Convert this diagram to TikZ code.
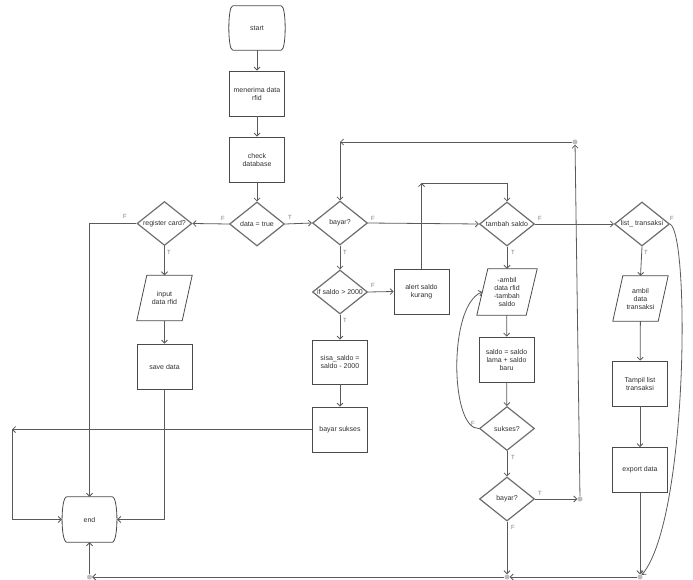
\documentclass[tikz,border=0pt]{standalone}
\usepackage{fontspec}
\setmainfont{Liberation Sans}
\usetikzlibrary{arrows.meta,shapes.geometric}
\definecolor{ln}{HTML}{5A5A5A}
\definecolor{bx}{HTML}{4A4A4A}
\definecolor{dm}{HTML}{6E6E6E}
\definecolor{lb}{HTML}{7A7A7A}
\definecolor{tx}{HTML}{303030}
\definecolor{dotc}{HTML}{BDBDBD}
\tikzset{
 every node/.style={font=\fontsize{7}{8}\selectfont, text=tx},
 proc/.style={rectangle, draw=bx, line width=0.8pt, minimum width=55pt, minimum height=45pt, inner sep=0pt, align=center},
 dec/.style={diamond, draw=dm, line width=1.2pt, minimum width=55pt, minimum height=44pt, inner sep=0pt},
 tbox/.style={rectangle, minimum width=55pt, minimum height=45pt, inner sep=0pt, align=center},
 conn/.style={draw=ln, line width=0.8pt, -{Straight Barb[length=3pt,width=6pt]}},
 lbl/.style={font=\fontsize{6}{6}\selectfont, text=lb, inner sep=0pt},
 gdot/.style={circle, fill=dotc, minimum size=5pt, inner sep=0pt},
 shapeline/.style={draw=bx, line width=0.8pt},
}
\newcommand\termdraw[2]{%
 \draw[shapeline] ([xshift=#2]#1.north west) -- ([xshift=-#2]#1.north east)
  .. controls ([xshift=1.3]#1.north east) and ([xshift=1.3]#1.south east) .. ([xshift=-#2]#1.south east)
  -- ([xshift=#2]#1.south west)
  .. controls ([xshift=-1.3]#1.south west) and ([xshift=-1.3]#1.north west) .. ([xshift=#2]#1.north west);}
\newcommand\paradraw[2]{%
 \draw[shapeline] ([xshift=#2]#1.north west) -- (#1.north east) -- ([xshift=-#2]#1.south east) -- (#1.south west) -- cycle;}
\begin{document}
\begin{tikzpicture}[x=1pt,y=-1pt]
\useasboundingbox (0,0) rectangle (693,580);
% nodes
\node[tbox, minimum width=56pt, minimum height=44pt] (st) at (257,28) {start};
\termdraw{st}{4}
\node[proc] (mn) at (257,93.5) {menerima data\\rfid};
\node[proc] (cd) at (257,159.5) {check\\database};
\node[dec] (dt) at (257,224) {\makebox[0pt]{data = true}};
\node[dec] (rc) at (164.5,223.5) {\makebox[0pt]{register card?}};
\node[tbox] (in) at (164.5,298) {input\\data rfid};
\paradraw{in}{10}
\node[proc] (sv) at (164.5,366.5) {save data};
\node[dec] (by) at (340,223) {\makebox[0pt]{bayar?}};
\node[dec] (is) at (340,292) {\makebox[0pt]{if saldo > 2000}};
\node[proc, minimum height=44pt] (ss) at (340,362) {sisa\_saldo =\\saldo - 2000};
\node[proc] (bs) at (340,429.5) {bayar sukses};
\node[proc] (al) at (421.5,291.5) {alert saldo\\kurang};
\node[dec] (tb) at (507,224) {\makebox[0pt]{tambah saldo}};
\node[tbox, minimum width=60pt, minimum height=46pt] (am) at (507,292) {-ambil\\data rfid\\-tambah\\saldo};
\paradraw{am}{11}
\node[proc] (sl) at (506.5,359.5) {saldo = saldo\\lama + saldo\\baru};
\node[dec] (sk) at (507,428.5) {\makebox[0pt]{sukses?}};
\node[dec] (b2) at (507,499) {\makebox[0pt]{bayar?}};
\node[dec] (lt) at (642,224) {\makebox[0pt]{list\_ transaksi}};
\node[tbox] (at) at (640.5,298.5) {ambil\\data\\transaksi};
\paradraw{at}{10}
\node[proc] (tl) at (640,383.5) {Tampil list\\transaksi};
\node[proc] (ex) at (640,470) {export data};
\node[tbox] (en) at (89.5,519.5) {end};
\termdraw{en}{5}
% dots and corners
\node[gdot] (dtp) at (575,142) {};
\node[gdot] (dby) at (580,499) {};
\node[gdot] (d1) at (507,577) {};
\node[gdot] (d2) at (640,577) {};
\node[gdot] (d3) at (89.5,577) {};
\coordinate (c1) at (12,429.5);
\coordinate (cb) at (340,142);
\coordinate (ca) at (421.5,183);
% connectors
\draw[conn] (st) -- (mn);
\draw[conn] (mn) -- (cd);
\draw[conn] (cd) -- (dt);
\draw[conn] (dt.west) -- (rc.east);
\draw[conn] (dt.east) -- (by.west);
\draw[conn] (rc.west) -| (en.north);
\draw[conn] (rc.south) -- (in.north);
\draw[conn] (in) -- (sv);
\draw[conn] (sv.south) |- (en.east);
\draw[conn] (by.south) -- (is.north);
\draw[conn] (by.east) -- (tb.west);
\draw[conn] (is.south) -- (ss.north);
\draw[conn] (is.east) -- (al.west);
\draw[conn] (ss) -- (bs);
\draw[conn] (bs.west) -- (c1);
\draw[conn] (c1) |- (en.west);
\draw[conn] (al.north) -- (ca);
\draw[conn] (ca) -| (tb.north);
\draw[conn] (tb.south) -- (am.north);
\draw[conn] (tb.east) -- (lt.west);
\draw[conn] (am) -- (sl);
\draw[conn] (sl) -- (sk);
\draw[conn] (sk.south) -- (b2.north);
\draw[conn] (sk.west) .. controls (450,430) and (448,305) .. ([xshift=5.5]am.west);
\draw[conn] (b2.east) -- (dby);
\draw[conn] (dby) -- (dtp);
\draw[conn] (dtp) -- (cb);
\draw[conn] (cb) -- (by.north);
\draw[conn] (b2.south) -- (d1);
\draw[conn] (lt.south) -- (at.north);
\draw[conn] (at) -- (tl);
\draw[conn] (tl) -- (ex);
\draw[conn] (ex.south) -- (d2);
\draw[conn] (lt.east) .. controls (690,235) and (688,520) .. (d2);
\draw[conn] (d2) -- (d1);
\draw[conn] (d1) -- (d3);
\draw[conn] (d3) -- (en.south);
% labels
\node[lbl] at (223,218) {F};
\node[lbl] at (290,217) {T};
\node[lbl] at (125,216) {F};
\node[lbl] at (169,252) {T};
\node[lbl] at (345,252) {T};
\node[lbl] at (373,218) {F};
\node[lbl] at (373,285) {F};
\node[lbl] at (345,320) {T};
\node[lbl] at (540,218) {F};
\node[lbl] at (513,252) {T};
\node[lbl] at (672,218) {F};
\node[lbl] at (646,252) {T};
\node[lbl] at (473,423) {F};
\node[lbl] at (513,457) {T};
\node[lbl] at (540,493) {T};
\node[lbl] at (513,527) {F};
\end{tikzpicture}
\end{document}
